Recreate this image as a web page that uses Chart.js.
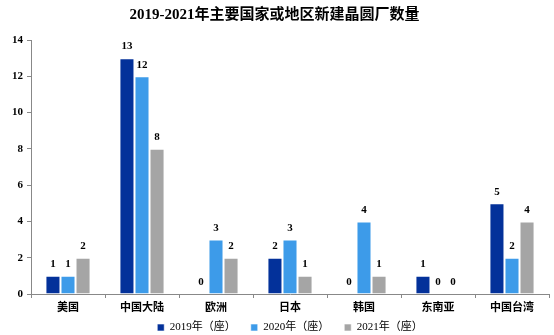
<!DOCTYPE html>
<html>
<head>
<meta charset="utf-8">
<script src="https://cdn.jsdelivr.net/npm/chart.js@4/dist/chart.umd.min.js"></script>
<style>
  html, body { margin: 0; padding: 0; background: #fff; }
  #wrap { width: 554px; height: 335px; }
</style>
</head>
<body>
<div id="wrap"><canvas id="grafico" width="554" height="335"></canvas></div>
<script>
const regiones = ["美国", "中国大陆", "欧洲", "日本", "韩国", "东南亚", "中国台湾"];
const serie2019 = [1, 13, 0, 2, 0, 1, 5];
const serie2020 = [1, 12, 3, 3, 4, 0, 2];
const serie2021 = [2, 8, 2, 1, 1, 0, 4];
const etiquetas = ["2019年（座）", "2020年（座）", "2021年（座）"];
const colores = ["#03319a", "#3d9be9", "#a5a5a5"];

const fuenteNum = "'Liberation Serif', 'Noto Sans CJK SC', serif";
const fuenteCjk = "'Liberation Serif', 'Noto Sans CJK SC', sans-serif";

// etiquetas de valor encima de cada barra
const valoresPlugin = {
    id: "valores",
    afterLayout(chart) {
        // la leyenda se mete bajo las etiquetas del eje x, no recortarlas
        chart.scales.x.bottom = chart.height;
    },
    afterDatasetsDraw(chart) {
        const ctx = chart.ctx;
        ctx.save();
        ctx.font = "bold 11px " + fuenteNum;
        ctx.fillStyle = "#000";
        ctx.textAlign = "center";
        ctx.textBaseline = "bottom";
        chart.data.datasets.forEach((ds, i) => {
            const meta = chart.getDatasetMeta(i);
            meta.data.forEach((bar, j) => {
                ctx.fillText(String(ds.data[j]), bar.x, bar.y - 6);
            });
        });
        ctx.restore();
    }
};

new Chart(document.getElementById("grafico"), {
    type: "bar",
    data: {
        labels: regiones,
        datasets: [
            { label: etiquetas[0], data: serie2019, backgroundColor: colores[0] },
            { label: etiquetas[1], data: serie2020, backgroundColor: colores[1] },
            { label: etiquetas[2], data: serie2021, backgroundColor: colores[2] }
        ]
    },
    options: {
        responsive: false,
        animation: false,
        datasets: { bar: { categoryPercentage: 0.61, barPercentage: 1.0, borderWidth: 1, borderColor: "rgba(255,255,255,0.6)" } },
        layout: { padding: { left: 0, right: 5, top: 4, bottom: -8 } },
        plugins: {
            title: {
                display: true,
                text: "2019-2021年主要国家或地区新建晶圆厂数量",
                color: "#000",
                font: { family: fuenteCjk, size: 15, weight: "bold" },
                padding: { top: 2, bottom: 16 }
            },
            legend: {
                position: "bottom",
                fullSize: false,
                labels: {
                    boxWidth: 7,
                    boxHeight: 7,
                    padding: 15,
                    color: "#000",
                    font: { family: fuenteNum, size: 11 }
                }
            },
            tooltip: { enabled: false }
        },
        scales: {
            x: {
                afterFit(scale) { scale.height = 13; },
                grid: { drawOnChartArea: false, drawTicks: true, tickLength: 4, color: "#888" },
                border: { display: true, color: "#888" },
                ticks: { color: "#000", font: { family: fuenteCjk, size: 11, weight: "bold" }, padding: 4 }
            },
            y: {
                min: 0,
                max: 14,
                afterFit(scale) { scale.width = 31; },
                grid: { drawOnChartArea: false, drawTicks: true, tickLength: 4, color: "#888" },
                border: { display: true, color: "#888" },
                ticks: { stepSize: 2, color: "#000", font: { family: fuenteNum, size: 11, weight: "bold" }, padding: 4 }
            }
        }
    },
    plugins: [valoresPlugin]
});
</script>
</body>
</html>
